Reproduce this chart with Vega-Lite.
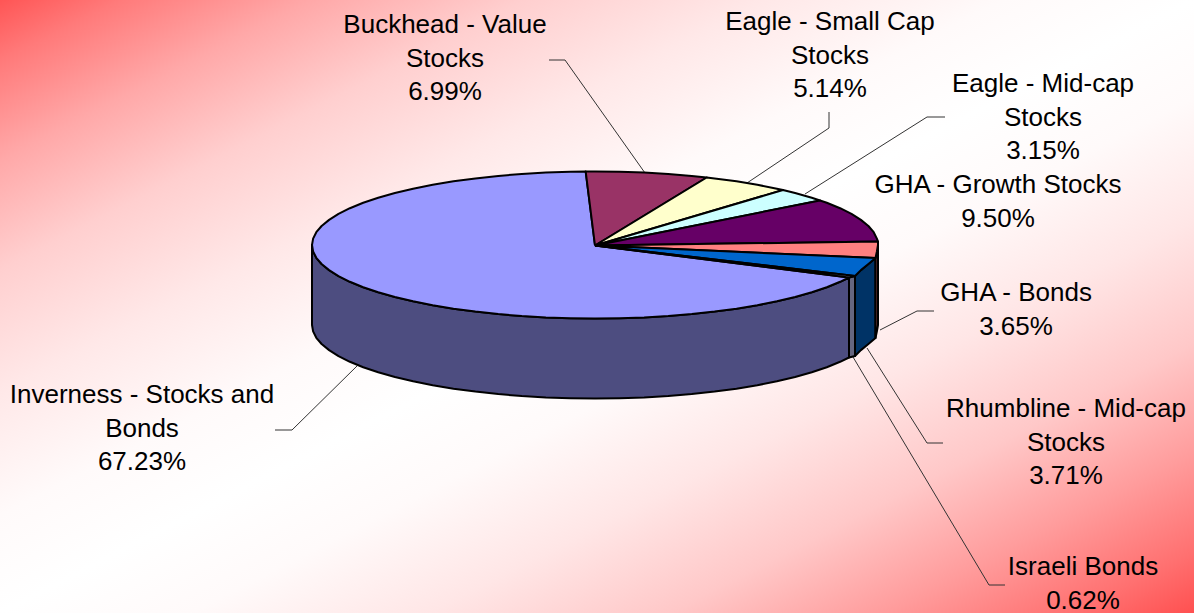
{"$schema":"https://vega.github.io/schema/vega-lite/v6.json","width":1194,"height":613,"padding":0,"autosize":"none",
"config":{"view":{"stroke":null,"fill":{"gradient":"linear","x1":0,"y1":0,"x2":1,"y2":1,"stops":[{"offset":0,"color":"#FF5555"},{"offset":0.05,"color":"#FF7A7A"},{"offset":0.13,"color":"#FFA8A8"},{"offset":0.22,"color":"#FFCFCF"},{"offset":0.32,"color":"#FFE8E8"},{"offset":0.42,"color":"#FFFAFA"},{"offset":0.5,"color":"#FFFFFF"},{"offset":0.58,"color":"#FFFAFA"},{"offset":0.68,"color":"#FFE6E6"},{"offset":0.78,"color":"#FFC8C8"},{"offset":0.87,"color":"#FF9C9C"},{"offset":0.95,"color":"#FF7070"},{"offset":1,"color":"#FF5050"}]}}},
"datasets":{
"pie":[
{"slice":"Inverness wall","x":849,"y":277.5},{"slice":"Inverness wall","x":840.1,"y":281.8},{"slice":"Inverness wall","x":826.8,"y":287.2},{"slice":"Inverness wall","x":811.8,"y":292.2},{"slice":"Inverness wall","x":795.1,"y":297},{"slice":"Inverness wall","x":776.9,"y":301.3},{"slice":"Inverness wall","x":757.3,"y":305.2},{"slice":"Inverness wall","x":736.5,"y":308.7},{"slice":"Inverness wall","x":714.6,"y":311.6},{"slice":"Inverness wall","x":691.8,"y":314.1},{"slice":"Inverness wall","x":668.2,"y":316},{"slice":"Inverness wall","x":644.1,"y":317.4},{"slice":"Inverness wall","x":619.7,"y":318.2},{"slice":"Inverness wall","x":595,"y":318.5},{"slice":"Inverness wall","x":570.3,"y":318.2},{"slice":"Inverness wall","x":545.9,"y":317.4},{"slice":"Inverness wall","x":521.8,"y":316},{"slice":"Inverness wall","x":498.2,"y":314.1},{"slice":"Inverness wall","x":475.4,"y":311.6},{"slice":"Inverness wall","x":453.5,"y":308.7},{"slice":"Inverness wall","x":432.7,"y":305.2},{"slice":"Inverness wall","x":413.1,"y":301.3},{"slice":"Inverness wall","x":394.9,"y":297},{"slice":"Inverness wall","x":378.2,"y":292.2},{"slice":"Inverness wall","x":363.2,"y":287.2},{"slice":"Inverness wall","x":349.9,"y":281.8},{"slice":"Inverness wall","x":338.5,"y":276.1},{"slice":"Inverness wall","x":329.1,"y":270.1},{"slice":"Inverness wall","x":321.6,"y":264},{"slice":"Inverness wall","x":316.3,"y":257.8},{"slice":"Inverness wall","x":313.1,"y":251.4},{"slice":"Inverness wall","x":312,"y":245},
{"slice":"Inverness wall","x":312,"y":325},{"slice":"Inverness wall","x":313.1,"y":331.4},{"slice":"Inverness wall","x":316.3,"y":337.8},{"slice":"Inverness wall","x":321.6,"y":344},{"slice":"Inverness wall","x":329.1,"y":350.1},{"slice":"Inverness wall","x":338.5,"y":356.1},{"slice":"Inverness wall","x":349.9,"y":361.8},{"slice":"Inverness wall","x":363.2,"y":367.2},{"slice":"Inverness wall","x":378.2,"y":372.2},{"slice":"Inverness wall","x":394.9,"y":377},{"slice":"Inverness wall","x":413.1,"y":381.3},{"slice":"Inverness wall","x":432.7,"y":385.2},{"slice":"Inverness wall","x":453.5,"y":388.7},{"slice":"Inverness wall","x":475.4,"y":391.6},{"slice":"Inverness wall","x":498.2,"y":394.1},{"slice":"Inverness wall","x":521.8,"y":396},{"slice":"Inverness wall","x":545.9,"y":397.4},{"slice":"Inverness wall","x":570.3,"y":398.2},{"slice":"Inverness wall","x":595,"y":398.5},{"slice":"Inverness wall","x":619.7,"y":398.2},{"slice":"Inverness wall","x":644.1,"y":397.4},{"slice":"Inverness wall","x":668.2,"y":396},{"slice":"Inverness wall","x":691.8,"y":394.1},{"slice":"Inverness wall","x":714.6,"y":391.6},{"slice":"Inverness wall","x":736.5,"y":388.7},{"slice":"Inverness wall","x":757.3,"y":385.2},{"slice":"Inverness wall","x":776.9,"y":381.3},{"slice":"Inverness wall","x":795.1,"y":377},{"slice":"Inverness wall","x":811.8,"y":372.2},{"slice":"Inverness wall","x":826.8,"y":367.2},{"slice":"Inverness wall","x":840.1,"y":361.8},{"slice":"Inverness wall","x":849,"y":357.5},{"slice":"Inverness wall","x":849,"y":277.5},
{"slice":"Israeli wall","x":849,"y":277.5},{"slice":"Israeli wall","x":855,"y":276},{"slice":"Israeli wall","x":855,"y":356},{"slice":"Israeli wall","x":849,"y":357.5},{"slice":"Israeli wall","x":849,"y":277.5},
{"slice":"Rhumbline wall","x":855,"y":276},{"slice":"Rhumbline wall","x":860.9,"y":270.1},{"slice":"Rhumbline wall","x":868.4,"y":264},{"slice":"Rhumbline wall","x":875.5,"y":258},{"slice":"Rhumbline wall","x":875.5,"y":338},{"slice":"Rhumbline wall","x":868.4,"y":344},{"slice":"Rhumbline wall","x":860.9,"y":350.1},{"slice":"Rhumbline wall","x":855,"y":356},{"slice":"Rhumbline wall","x":855,"y":276},
{"slice":"Bonds wall","x":875.5,"y":258},{"slice":"Bonds wall","x":876.9,"y":251.4},{"slice":"Bonds wall","x":878,"y":245},{"slice":"Bonds wall","x":878,"y":325},{"slice":"Bonds wall","x":876.9,"y":331.4},{"slice":"Bonds wall","x":875.5,"y":338},{"slice":"Bonds wall","x":875.5,"y":258},
{"slice":"Inverness","x":595,"y":245.5},{"slice":"Inverness","x":849,"y":277.5},{"slice":"Inverness","x":840.1,"y":281.8},{"slice":"Inverness","x":826.8,"y":287.2},{"slice":"Inverness","x":811.8,"y":292.2},{"slice":"Inverness","x":795.1,"y":297},{"slice":"Inverness","x":776.9,"y":301.3},{"slice":"Inverness","x":757.3,"y":305.2},{"slice":"Inverness","x":736.5,"y":308.7},{"slice":"Inverness","x":714.6,"y":311.6},{"slice":"Inverness","x":691.8,"y":314.1},{"slice":"Inverness","x":668.2,"y":316},{"slice":"Inverness","x":644.1,"y":317.4},{"slice":"Inverness","x":619.7,"y":318.2},{"slice":"Inverness","x":595,"y":318.5},{"slice":"Inverness","x":570.3,"y":318.2},{"slice":"Inverness","x":545.9,"y":317.4},{"slice":"Inverness","x":521.8,"y":316},{"slice":"Inverness","x":498.2,"y":314.1},{"slice":"Inverness","x":475.4,"y":311.6},{"slice":"Inverness","x":453.5,"y":308.7},{"slice":"Inverness","x":432.7,"y":305.2},{"slice":"Inverness","x":413.1,"y":301.3},{"slice":"Inverness","x":394.9,"y":297},{"slice":"Inverness","x":378.2,"y":292.2},{"slice":"Inverness","x":363.2,"y":287.2},{"slice":"Inverness","x":349.9,"y":281.8},{"slice":"Inverness","x":338.5,"y":276.1},{"slice":"Inverness","x":329.1,"y":270.1},{"slice":"Inverness","x":321.6,"y":264},{"slice":"Inverness","x":316.3,"y":257.8},{"slice":"Inverness","x":313.1,"y":251.4},{"slice":"Inverness","x":312,"y":245},{"slice":"Inverness","x":313.1,"y":238.6},{"slice":"Inverness","x":316.3,"y":232.2},{"slice":"Inverness","x":321.6,"y":226},{"slice":"Inverness","x":329.1,"y":219.9},{"slice":"Inverness","x":338.5,"y":213.9},{"slice":"Inverness","x":349.9,"y":208.2},{"slice":"Inverness","x":363.2,"y":202.8},{"slice":"Inverness","x":378.2,"y":197.8},{"slice":"Inverness","x":394.9,"y":193},{"slice":"Inverness","x":413.1,"y":188.7},{"slice":"Inverness","x":432.7,"y":184.8},{"slice":"Inverness","x":453.5,"y":181.3},{"slice":"Inverness","x":475.4,"y":178.4},{"slice":"Inverness","x":498.2,"y":175.9},{"slice":"Inverness","x":521.8,"y":174},{"slice":"Inverness","x":545.9,"y":172.6},{"slice":"Inverness","x":570.3,"y":171.8},{"slice":"Inverness","x":585.7,"y":171.6},{"slice":"Inverness","x":595,"y":245.5},
{"slice":"Buckhead","x":595,"y":245.5},{"slice":"Buckhead","x":585.7,"y":171.6},{"slice":"Buckhead","x":595,"y":171.5},{"slice":"Buckhead","x":619.7,"y":171.8},{"slice":"Buckhead","x":644.1,"y":172.6},{"slice":"Buckhead","x":668.2,"y":174},{"slice":"Buckhead","x":691.8,"y":175.9},{"slice":"Buckhead","x":706.7,"y":177.5},{"slice":"Buckhead","x":595,"y":245.5},
{"slice":"Eagle Small","x":595,"y":245.5},{"slice":"Eagle Small","x":706.7,"y":177.5},{"slice":"Eagle Small","x":714.6,"y":178.4},{"slice":"Eagle Small","x":736.5,"y":181.3},{"slice":"Eagle Small","x":757.3,"y":184.8},{"slice":"Eagle Small","x":776.9,"y":188.7},{"slice":"Eagle Small","x":783,"y":190},{"slice":"Eagle Small","x":595,"y":245.5},
{"slice":"Eagle Mid","x":595,"y":245.5},{"slice":"Eagle Mid","x":783,"y":190},{"slice":"Eagle Mid","x":795.1,"y":193},{"slice":"Eagle Mid","x":811.8,"y":197.8},{"slice":"Eagle Mid","x":820,"y":200.5},{"slice":"Eagle Mid","x":595,"y":245.5},
{"slice":"GHA Growth","x":595,"y":245.5},{"slice":"GHA Growth","x":820,"y":200.5},{"slice":"GHA Growth","x":826.8,"y":202.8},{"slice":"GHA Growth","x":840.1,"y":208.2},{"slice":"GHA Growth","x":851.5,"y":213.9},{"slice":"GHA Growth","x":860.9,"y":219.9},{"slice":"GHA Growth","x":868.4,"y":226},{"slice":"GHA Growth","x":873.7,"y":232.2},{"slice":"GHA Growth","x":876.9,"y":238.6},{"slice":"GHA Growth","x":878,"y":241.5},{"slice":"GHA Growth","x":595,"y":245.5},
{"slice":"GHA Bonds","x":595,"y":245.5},{"slice":"GHA Bonds","x":878,"y":241.5},{"slice":"GHA Bonds","x":878,"y":245},{"slice":"GHA Bonds","x":876.9,"y":251.4},{"slice":"GHA Bonds","x":875.5,"y":258},{"slice":"GHA Bonds","x":595,"y":245.5},
{"slice":"Rhumbline","x":595,"y":245.5},{"slice":"Rhumbline","x":875.5,"y":258},{"slice":"Rhumbline","x":868.4,"y":264},{"slice":"Rhumbline","x":860.9,"y":270.1},{"slice":"Rhumbline","x":855,"y":276},{"slice":"Rhumbline","x":595,"y":245.5},
{"slice":"Israeli","x":595,"y":245.5},{"slice":"Israeli","x":855,"y":276},{"slice":"Israeli","x":849,"y":277.5},{"slice":"Israeli","x":595,"y":245.5}
],
"leaders":[
{"leader":"Buckhead","x":549,"y":60},{"leader":"Buckhead","x":565,"y":60},{"leader":"Buckhead","x":645,"y":173},
{"leader":"Eagle Small","x":829,"y":112},{"leader":"Eagle Small","x":829,"y":128},{"leader":"Eagle Small","x":747,"y":183},
{"leader":"Eagle Mid","x":945,"y":117},{"leader":"Eagle Mid","x":927,"y":117},{"leader":"Eagle Mid","x":805,"y":194},
{"leader":"GHA Bonds","x":934,"y":311},{"leader":"GHA Bonds","x":917,"y":311},{"leader":"GHA Bonds","x":880,"y":330},
{"leader":"Rhumbline","x":867,"y":348},{"leader":"Rhumbline","x":927,"y":443},{"leader":"Rhumbline","x":943,"y":443},
{"leader":"Israeli","x":853,"y":357},{"leader":"Israeli","x":989,"y":585},{"leader":"Israeli","x":1005,"y":585},
{"leader":"Inverness","x":275,"y":430},{"leader":"Inverness","x":292,"y":430},{"leader":"Inverness","x":357,"y":366}
],
"labels":[
{"label":"Buckhead - Value\nStocks\n6.99%","x":445,"y":33},
{"label":"Eagle - Small Cap\nStocks\n5.14%","x":830,"y":30},
{"label":"Eagle - Mid-cap\nStocks\n3.15%","x":1043,"y":92},
{"label":"GHA - Growth Stocks\n9.50%","x":998,"y":193},
{"label":"GHA - Bonds\n3.65%","x":1016,"y":301},
{"label":"Rhumbline - Mid-cap\nStocks\n3.71%","x":1066,"y":417},
{"label":"Israeli Bonds\n0.62%","x":1083,"y":575},
{"label":"Inverness - Stocks and\nBonds\n67.23%","x":142,"y":403}
]},
"encoding":{
"x":{"field":"x","type":"quantitative","scale":{"domain":[0,1194],"nice":false,"zero":false},"axis":null},
"y":{"field":"y","type":"quantitative","scale":{"domain":[613,0],"nice":false,"zero":false},"axis":null}},
"layer":[
{"data":{"name":"leaders"},"mark":{"type":"line","stroke":"#333333","strokeWidth":1,"strokeJoin":"miter"},"encoding":{"detail":{"field":"leader"},"order":{"value":null}}},
{"data":{"name":"pie"},"mark":{"type":"line","stroke":"#000000","strokeWidth":2,"strokeJoin":"round"},"encoding":{"order":{"value":null},
"fill":{"field":"slice","type":"nominal","legend":null,"scale":{"domain":["Inverness wall","Israeli wall","Rhumbline wall","Bonds wall","Inverness","Buckhead","Eagle Small","Eagle Mid","GHA Growth","GHA Bonds","Rhumbline","Israeli"],"range":["#4D4D80","#666680","#003366","#804040","#9999FF","#993366","#FFFFCC","#CCFFFF","#660066","#FF8080","#0066CC","#CCCCFF"]}}}},
{"data":{"name":"labels"},"mark":{"type":"text","font":"Liberation Sans","fontSize":26,"lineBreak":"\n","lineHeight":33.7,"align":"center","baseline":"alphabetic","color":"#000000"},"encoding":{"text":{"field":"label"}}}
]}
